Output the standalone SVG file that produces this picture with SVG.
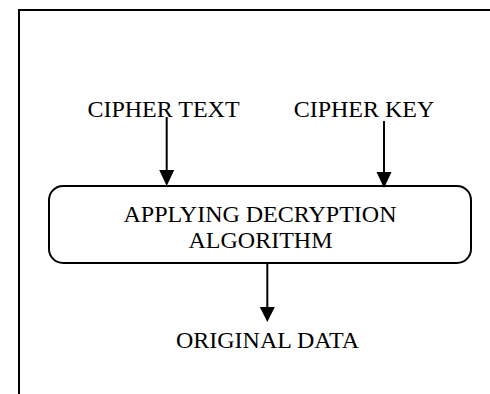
<svg xmlns="http://www.w3.org/2000/svg" width="490" height="394" viewBox="0 0 490 394">
<style>
text{font-family:"Liberation Serif","Times New Roman",serif;font-size:24px;fill:#000;text-anchor:middle}
.ln{stroke:#000;stroke-width:2;fill:none}
.hd{fill:#000;stroke:none}
</style>
<rect width="490" height="394" fill="#fff"/>
<path class="ln" d="M19,394 V10 H490"/>
<g id="cipher-text"><text x="163.5" y="117">CIPHER TEXT</text></g>
<g id="cipher-key"><text x="364" y="117">CIPHER KEY</text></g>
<g id="decrypt">
<rect class="ln" x="49" y="186" width="422" height="77" rx="14"/>
<text x="260" y="222">APPLYING DECRYPTION</text>
<text x="260.5" y="248">ALGORITHM</text>
</g>
<g id="original-data"><text x="267.5" y="348">ORIGINAL DATA</text></g>
<g id="connectors">
<line class="ln" x1="166.7" y1="117" x2="166.7" y2="172"/>
<polygon class="hd" points="159.2,170 174.2,170 166.7,186"/>
<line class="ln" x1="384" y1="121" x2="384" y2="174"/>
<polygon class="hd" points="376.5,172 391.5,172 384,188"/>
<line class="ln" x1="267.3" y1="263" x2="267.3" y2="309"/>
<polygon class="hd" points="259.8,307 274.8,307 267.3,322"/>
</g>
</svg>
